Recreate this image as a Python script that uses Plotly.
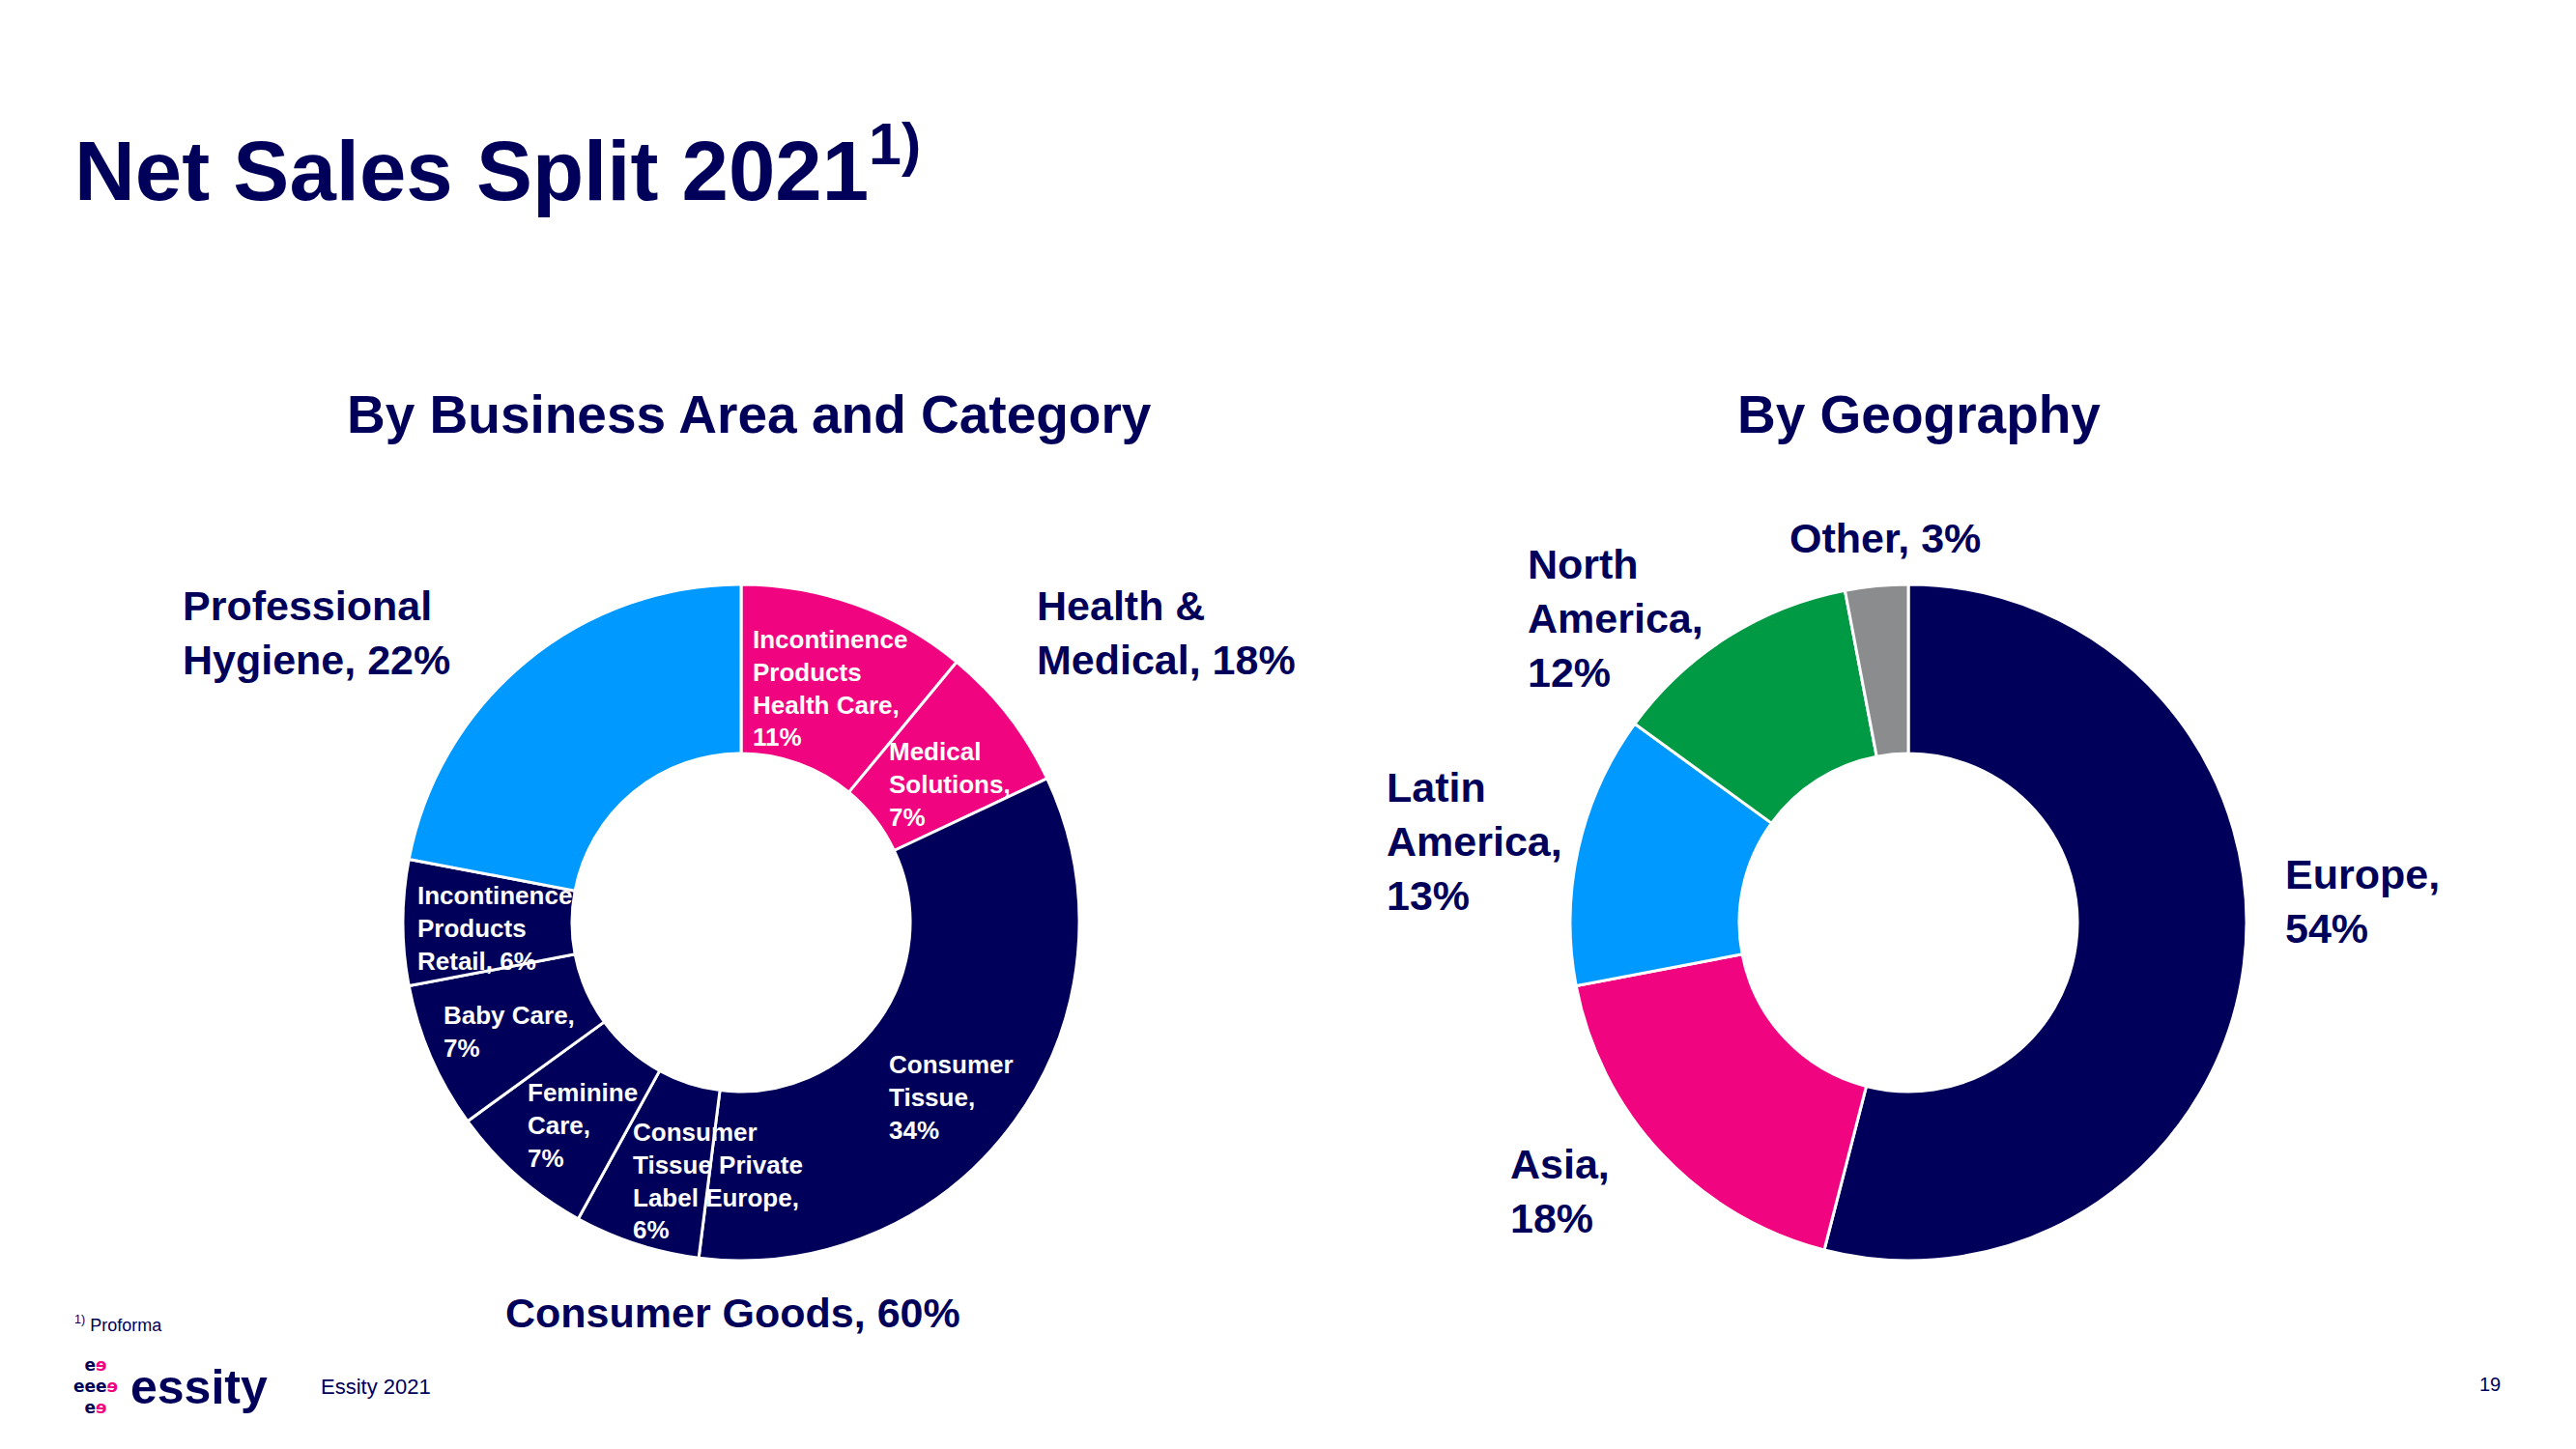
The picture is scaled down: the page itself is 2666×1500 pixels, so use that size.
import plotly.graph_objects as go

# ---------------- data ----------------
business_labels = [
    "Incontinence Products Health Care",
    "Medical Solutions",
    "Consumer Tissue",
    "Consumer Tissue Private Label Europe",
    "Feminine Care",
    "Baby Care",
    "Incontinence Products Retail",
    "Professional Hygiene",
]
business_values = [11, 7, 34, 6, 7, 7, 6, 22]

area_labels = ["Professional Hygiene", "Health & Medical", "Consumer Goods"]
area_values = [22, 18, 60]

geo_labels = ["Europe", "Asia", "Latin America", "North America", "Other"]
geo_values = [54, 18, 13, 12, 3]

title_text = "Net Sales Split 2021"
subtitle_left = "By Business Area and Category"
subtitle_right = "By Geography"
footnote = "Proforma"
footer_text = "Essity 2021"
page_number = "19"

# ---------------- style ----------------
NAVY = "#00005A"
PINK = "#F0047F"
BLUE = "#0099FF"
GREEN = "#009A44"
GREY = "#8A8C8E"
FONT = "Liberation Sans, Arial, sans-serif"

business_colors = [PINK, PINK, NAVY, NAVY, NAVY, NAVY, NAVY, BLUE]
geo_colors = [NAVY, PINK, BLUE, GREEN, GREY]

W, H = 2666, 1500          # window size
PAD = 8                    # default page margin of the html body
FW, FH = W - 2 * PAD, H - 2 * PAD


def px(x):
    return (x - PAD) / FW


def py(y):
    return 1 - (y - PAD) / FH


def wrap(name, value, split, pct_newline):
    words = name.split(" ")
    lines, i = [], 0
    for n in split:
        lines.append(" ".join(words[i:i + n]))
        i += n
    if pct_newline:
        lines[-1] += ","
        lines.append(f"{value}%")
    else:
        lines[-1] += f", {value}%"
    return "<br>".join(lines)


fig = go.Figure()

# donut geometry (window pixels)
L_CX, L_CY, R_CX, R_CY, RAD = 767, 955, 1975, 955, 350

fig.add_trace(go.Pie(
    labels=business_labels, values=business_values,
    sort=False, direction="clockwise", rotation=0, hole=0.5,
    marker=dict(colors=business_colors, line=dict(color="white", width=3)),
    textinfo="none", hoverinfo="label+percent", showlegend=False,
    domain=dict(x=[px(L_CX - RAD), px(L_CX + RAD)], y=[py(L_CY + RAD), py(L_CY - RAD)]),
))

fig.add_trace(go.Pie(
    labels=geo_labels, values=geo_values,
    sort=False, direction="clockwise", rotation=0, hole=0.5,
    marker=dict(colors=geo_colors, line=dict(color="white", width=3)),
    textinfo="none", hoverinfo="label+percent", showlegend=False,
    domain=dict(x=[px(R_CX - RAD), px(R_CX + RAD)], y=[py(R_CY + RAD), py(R_CY - RAD)]),
))

ann = []


def add(text, x, y, size, color=NAVY, bold=True, xanchor="left", yanchor="top", align="left", family=FONT):
    ann.append(dict(
        text=text, x=px(x), y=py(y), xref="paper", yref="paper",
        xanchor=xanchor, yanchor=yanchor, align=align, showarrow=False,
        font=dict(family=family, size=size, color=color, weight="bold" if bold else "normal"),
    ))


# title & subtitles
add(f"{title_text}<sup>1)</sup>", 75, 227, 87, yanchor="bottom")
add(subtitle_left, 775, 396, 55, xanchor="center", align="center")
add(subtitle_right, 1986, 396, 55, xanchor="center", align="center")

# inner labels of business donut
inner_specs = {
    "Incontinence Products Health Care": (777, 645, [1, 1, 2], True),
    "Medical Solutions": (918, 761, [1, 1], True),
    "Consumer Tissue": (918, 1085, [1, 1], True),
    "Consumer Tissue Private Label Europe": (653, 1155, [1, 2, 2], True),
    "Feminine Care": (544, 1114, [1, 1], True),
    "Baby Care": (457, 1034, [2], True),
    "Incontinence Products Retail": (430, 910, [1, 1, 1], False),
}
for name, val in zip(business_labels, business_values):
    if name in inner_specs:
        x, y, split, nl = inner_specs[name]
        add(wrap(name, val, split, nl), x, y, 26, color="white")

# business area labels
area_specs = {
    "Professional Hygiene": (187, 601, [1, 1], False, "left"),
    "Health & Medical": (1071, 601, [2, 1], False, "left"),
    "Consumer Goods": (758, 1333, [2], False, "center"),
}
for name, val in zip(area_labels, area_values):
    x, y, split, nl, xa = area_specs[name]
    add(wrap(name, val, split, nl), x, y, 43, xanchor=xa, align=xa)

# geography labels
geo_specs = {
    "Europe": (2363, 879, [1], True),
    "Asia": (1561, 1179, [1], True),
    "Latin America": (1433, 789, [1, 1], True),
    "North America": (1579, 558, [1, 1], True),
    "Other": (1850, 531, [1], False),
}
for name, val in zip(geo_labels, geo_values):
    x, y, split, nl = geo_specs[name]
    add(wrap(name, val, split, nl), x, y, 43)

# footer
add(f"<sup>1)</sup> {footnote}", 75, 1370, 18, bold=False, yanchor="middle")
add("essity", 133, 1436, 50, yanchor="middle")
pe = f"<span style='color:{PINK}'>\u0258</span>"
add(f"e{pe}<br>eee{pe}<br>e{pe}", 99, 1435, 17, xanchor="center", yanchor="middle",
    align="center", family="DejaVu Sans, sans-serif")
add(footer_text, 330, 1435, 22, bold=False, yanchor="middle")
add(page_number, 2590, 1433, 20, bold=False, xanchor="right", yanchor="middle")

fig.update_layout(
    width=FW, height=FH,
    margin=dict(l=0, r=0, t=0, b=0),
    paper_bgcolor="white", plot_bgcolor="white",
    annotations=ann,
    font=dict(family=FONT, color=NAVY),
)

fig.write_html("out.html")
